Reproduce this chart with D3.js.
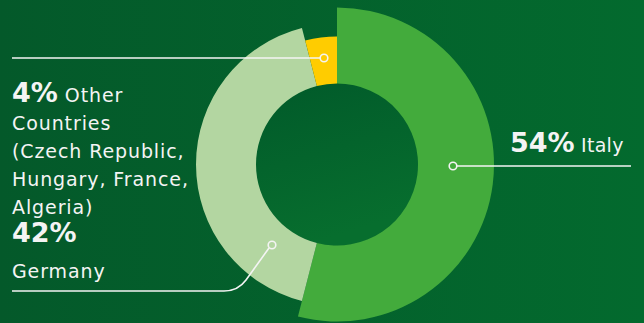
<!DOCTYPE html>
<html><head><meta charset="utf-8">
<script src="https://cdn.jsdelivr.net/npm/d3@7"></script>
<style>html,body{margin:0;padding:0;background:#045a2a;overflow:hidden}</style>
</head><body>
<svg id="c" width="644" height="323"></svg>
<script>
const categories = ["Italy", "Germany", "Other Countries"];
const values = [54, 42, 4];
const colors = ["#43ab3c", "#b3d6a1", "#ffcc00"];
const outerRadii = [157, 141, 128];
const pctLabels = ["54%", "42%", "4%"];

const W = 644, H = 323;
const svg = d3.select("#c");
const defs = svg.append("defs");
const bg = defs.append("linearGradient").attr("id","bg").attr("x1","0").attr("y1","0").attr("x2","1").attr("y2","0");
bg.append("stop").attr("offset","0").attr("stop-color","#04592a");
bg.append("stop").attr("offset","1").attr("stop-color","#036a2e");
const hg = defs.append("linearGradient").attr("id","hole").attr("x1","0").attr("y1","0").attr("x2","0.3").attr("y2","1");
hg.append("stop").attr("offset","0").attr("stop-color","#015a2a");
hg.append("stop").attr("offset","1").attr("stop-color","#076e2e");
svg.append("rect").attr("width",W).attr("height",H).attr("fill","url(#bg)");

const cx = 337, cy = 164.5, inner = 81;
const pie = d3.pie().sort(null).value(d => d)(values);
const g = svg.append("g").attr("transform", `translate(${cx},${cy})`);
g.append("circle").attr("r", inner).attr("fill","url(#hole)");
g.selectAll("path").data(pie).join("path")
  .attr("d", (d,i) => d3.arc().innerRadius(inner).outerRadius(outerRadii[i])(d))
  .attr("fill", (d,i) => colors[i]);

// leader lines
const lw = 1.6;
const white = "#f4f4f4";
function dot(x,y,fill){
  svg.append("circle").attr("cx",x).attr("cy",y).attr("r",3.8).attr("fill",fill).attr("stroke",white).attr("stroke-width",1.6);
}
// Italy
svg.append("line").attr("x1",457).attr("y1",166).attr("x2",631).attr("y2",166).attr("stroke",white).attr("stroke-width",lw);
dot(453,166,colors[0]);
// Other
svg.append("line").attr("x1",12).attr("y1",58).attr("x2",320).attr("y2",58).attr("stroke",white).attr("stroke-width",lw);
dot(324,58,colors[2]);
// Germany
svg.append("path").attr("d","M12,291 L224,291 Q238,291 246,280 L269,248").attr("fill","none").attr("stroke",white).attr("stroke-width",lw);
dot(272,245,colors[1]);

const font = "'DejaVu Sans', sans-serif";
function txt(x,y,parts){
  const t = svg.append("text").attr("x",x).attr("y",y).attr("fill",white).attr("font-family",font);
  parts.forEach(p => t.append("tspan").text(p[0]).attr("font-size",p[1]).attr("font-weight",p[2]||"normal")
    .attr("letter-spacing", p[3] != null ? p[3] : (p[2] ? 0 : 0.9)));
  return t;
}
txt(510,152,[[pctLabels[0],27,"bold"],[" " + categories[0],19,null,0.3]]);
txt(12,102,[[pctLabels[2],27,"bold"],[" Other",19]]);
const lines = ["Countries","(Czech Republic,","Hungary, France,","Algeria)"];
lines.forEach((l,i)=>txt(12,130+i*28,[[l,19]]));
txt(12,242,[[pctLabels[1],27,"bold"]]);
txt(12,278,[[categories[1],19]]);
</script>
</body></html>
